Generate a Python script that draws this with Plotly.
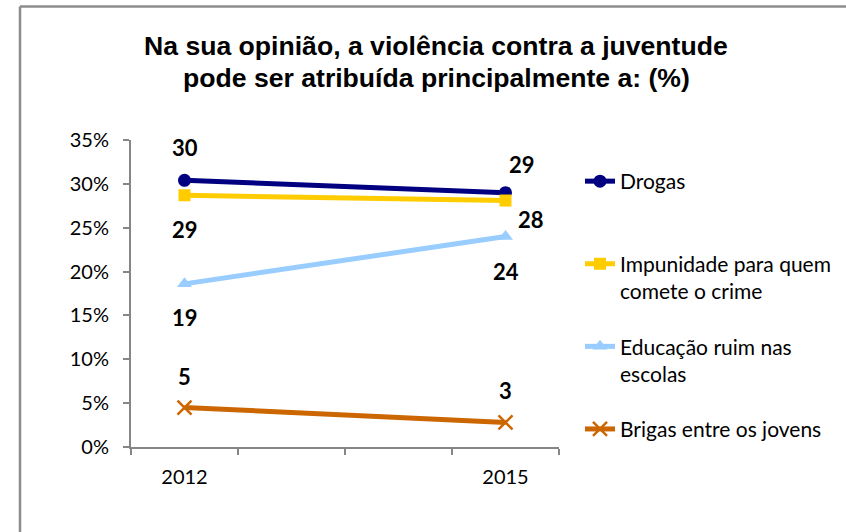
import plotly.graph_objects as go

# ---- data ----
years = [2012, 2015]

drogas = [30.4, 29.0]
impunidade = [28.7, 28.1]
educacao = [18.6, 24.0]
brigas = [4.5, 2.8]

drogas_labels = ["30", "29"]
impunidade_labels = ["29", "28"]
educacao_labels = ["19", "24"]
brigas_labels = ["5", "3"]

# trailing blank lines keep every legend entry the same height, as in the original
series_names = [
    "Drogas<br> ",
    "Impunidade para quem<br>comete o crime",
    "Educação ruim nas<br>escolas",
    "Brigas entre os jovens<br> ",
]

title_lines = [
    "Na sua opinião, a violência contra a juventude",
    "pode ser atribuída principalmente a: (%)",
]

y_ticks = [0, 5, 10, 15, 20, 25, 30, 35]
y_tick_labels = ["0%", "5%", "10%", "15%", "20%", "25%", "30%", "35%"]
x_tick_labels = ["2012", "2015"]

# ---- styling ----
colors = ["#000080", "#FFCC00", "#99CCFF", "#CC6600"]
symbols = ["circle", "square", "triangle-up", "x-thin"]
marker_sizes = [13, 12, 13, 14]
# (xshift, yshift) per point for the data labels
label_shifts = [
    [(0, 33), (16, 28)],
    [(0, -34), (25, -19)],
    [(0, -34), (0, -35)],
    [(0, 31), (0, 32)],
]

FONT = "Lato, Carlito, Calibri, sans-serif"
TITLE_FONT = "Liberation Sans, Arial, sans-serif"
AXIS_GREY = "#868686"

# plot area in pixels: x 131..559, y 140..447
PLOT_L, PLOT_R, PLOT_T, PLOT_B = 131, 559, 140, 447
W, H = 846, 532


def px_to_paper(xp, yp):
    return (
        (xp - PLOT_L) / (PLOT_R - PLOT_L),
        (PLOT_B - yp) / (PLOT_B - PLOT_T),
    )


values = [drogas, impunidade, educacao, brigas]
labels = [drogas_labels, impunidade_labels, educacao_labels, brigas_labels]

fig = go.Figure()
for i, name in enumerate(series_names):
    marker = {"symbol": symbols[i], "size": marker_sizes[i], "color": colors[i]}
    if symbols[i] == "x-thin":
        marker["line"] = {"color": colors[i], "width": 2.5}
    fig.add_trace(
        go.Scatter(
            x=years,
            y=values[i],
            name=name,
            mode="lines+markers",
            line={"color": colors[i], "width": 5},
            marker=marker,
            legendgroup=f"g{i}",
            hoverinfo="skip",
        )
    )
    for j, yr in enumerate(years):
        dx, dy = label_shifts[i][j]
        fig.add_annotation(
            x=yr,
            y=values[i][j],
            text=labels[i][j],
            showarrow=False,
            xshift=dx,
            yshift=dy,
            font={"family": FONT, "size": 22, "color": "black", "weight": "bold"},
        )

# two-line title, placed line by line
for k, line in enumerate(title_lines):
    tx, ty = px_to_paper(436, 46 + 32 * k)
    fig.add_annotation(
        x=tx,
        y=ty,
        xref="paper",
        yref="paper",
        text=line,
        showarrow=False,
        xanchor="center",
        yanchor="middle",
        font={"family": TITLE_FONT, "size": 26.6, "color": "black", "weight": "bold"},
    )

# chart-area border: only its left and top edges fall inside the picture
bx0, by1 = px_to_paper(20, 6.5)
bx1, by0 = px_to_paper(W + 20, H + 20)
for x0, y0, x1, y1 in [(bx0, by1, bx1, by1), (bx0, by0, bx0, by1)]:
    fig.add_shape(
        type="line",
        xref="paper",
        yref="paper",
        x0=x0,
        y0=y0,
        x1=x1,
        y1=y1,
        line={"color": "#8c8c8c", "width": 2.5},
        layer="below",
    )

fig.update_layout(
    width=W,
    height=H,
    margin={"l": PLOT_L, "r": W - PLOT_R, "t": PLOT_T, "b": H - PLOT_B, "autoexpand": False},
    paper_bgcolor="white",
    plot_bgcolor="white",
    font={"family": FONT, "size": 20, "color": "black"},
    showlegend=True,
    legend={
        "xref": "container",
        "yref": "container",
        "x": 580 / W,
        "xanchor": "left",
        "y": 1 - 161 / H,
        "yanchor": "top",
        "maxheight": 420,
        "traceorder": "grouped",
        "tracegroupgap": 25,
        "valign": "top",
        "font": {"family": FONT, "size": 21, "color": "black"},
        "bgcolor": "rgba(0,0,0,0)",
        "itemclick": False,
    },
    xaxis={
        "range": [2011.5, 2015.5],
        "tickmode": "array",
        "tickvals": years,
        "ticktext": x_tick_labels,
        "ticks": "",
        "ticklabelstandoff": 11,
        "showgrid": False,
        "zeroline": False,
        "showline": True,
        "linecolor": AXIS_GREY,
        "linewidth": 2,
        "minor": {
            "tick0": 2011.5,
            "dtick": 1,
            "ticks": "outside",
            "ticklen": 6,
            "tickwidth": 2,
            "tickcolor": AXIS_GREY,
            "showgrid": False,
        },
        "fixedrange": True,
    },
    yaxis={
        "range": [0, 35],
        "tickmode": "array",
        "tickvals": y_ticks,
        "ticktext": y_tick_labels,
        "ticks": "outside",
        "ticklen": 6,
        "tickwidth": 2,
        "tickcolor": AXIS_GREY,
        "ticklabelstandoff": 10,
        "showgrid": False,
        "zeroline": False,
        "showline": True,
        "linecolor": AXIS_GREY,
        "linewidth": 2,
        "fixedrange": True,
    },
)

# the page's default 8px body margin would push the figure off its 846x532 frame
fig.write_html(
    "out.html",
    config={"displayModeBar": False},
    post_script="document.body.style.margin = '0';",
)
